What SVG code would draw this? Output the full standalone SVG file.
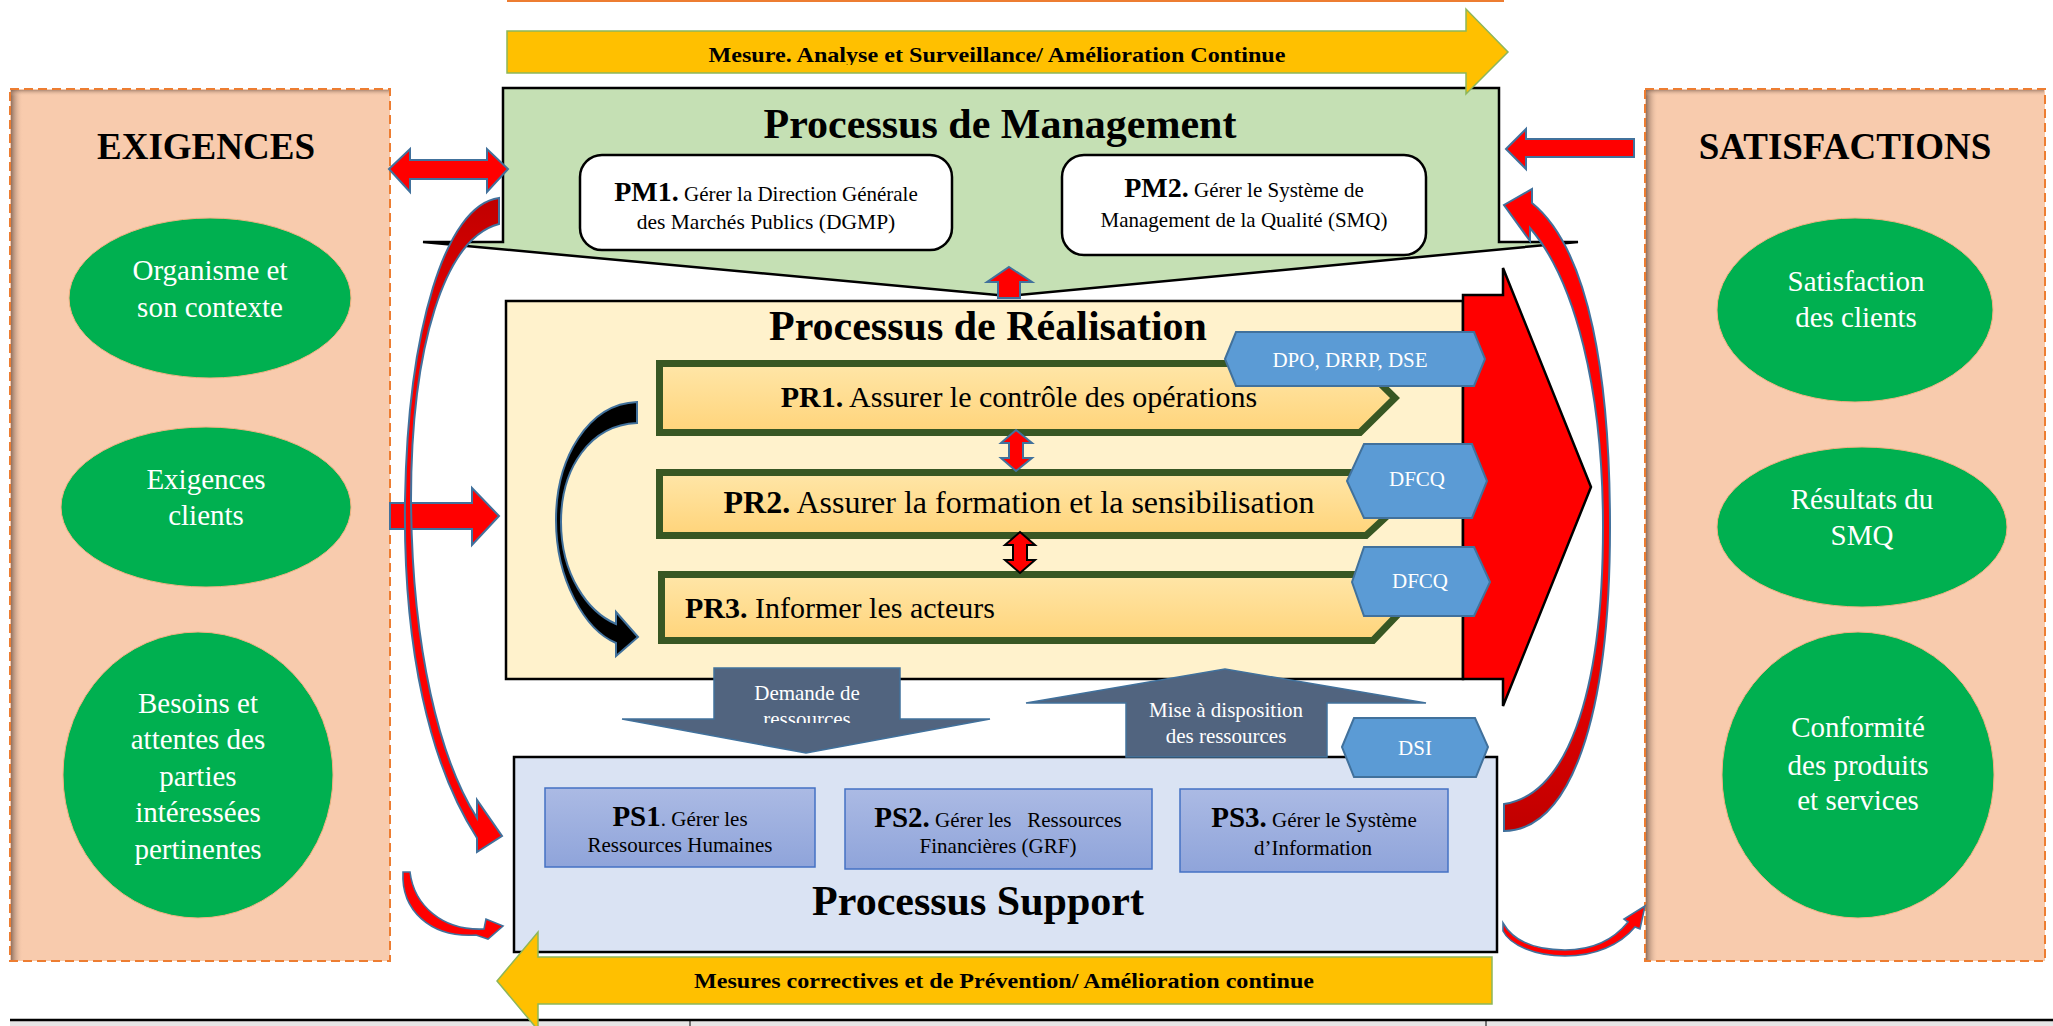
<svg xmlns="http://www.w3.org/2000/svg" width="2053" height="1026" viewBox="0 0 2053 1026">
<defs>
<style>
.t{font-family:"Liberation Serif","Times New Roman",serif;fill:#000}
.b{font-weight:bold}
.mid{text-anchor:middle}
.panel{fill:#F8CBAD;stroke:#ED7D31;stroke-width:2;stroke-dasharray:9 5}
.ell{fill:#00B050;stroke:#F4B183;stroke-width:1}
.et{font-size:29px;fill:#fff;text-anchor:middle}
.hex{fill:#5B9BD5;stroke:#41719C;stroke-width:2}
.ht{font-size:21px;fill:#fff;text-anchor:middle}
.red{fill:#FF0000;stroke:#41719C;stroke-width:2;stroke-linejoin:miter}
.thin{fill:#FF0000;stroke:#41719C;stroke-width:1.6;stroke-linejoin:miter}
.pr{fill:url(#gPR);stroke:#385723;stroke-width:7}
.ps{fill:url(#gPS);stroke:#4472C4;stroke-width:1.5}
.yel{fill:#FFC000;stroke:#8DB65A;stroke-width:1.5}
.dark{fill:#51647F;stroke:#41719C;stroke-width:1.5}
.title{font-size:42px;font-weight:bold;text-anchor:middle}
.box{stroke:#000;stroke-width:2.5}
.pm{fill:#fff;stroke:#000;stroke-width:2.5}
</style>
<linearGradient id="gPR" x1="0" y1="0" x2="0" y2="1"><stop offset="0" stop-color="#FFE6A8"/><stop offset="1" stop-color="#FFD47A"/></linearGradient>
<linearGradient id="gPS" x1="0" y1="0" x2="0" y2="1"><stop offset="0" stop-color="#ABBAE4"/><stop offset="1" stop-color="#8FA4DA"/></linearGradient>
<linearGradient id="gRedL" x1="0" y1="0" x2="0" y2="1"><stop offset="0" stop-color="#C00000"/><stop offset="0.35" stop-color="#FF0000"/><stop offset="1" stop-color="#FF0000"/></linearGradient>
<linearGradient id="gRedR" x1="0" y1="0" x2="0" y2="1"><stop offset="0" stop-color="#FF0000"/><stop offset="0.6" stop-color="#FF0000"/><stop offset="1" stop-color="#C00000"/></linearGradient>
<linearGradient id="shL" x1="0" y1="0" x2="1" y2="0"><stop offset="0" stop-color="#7E6050" stop-opacity="0.85"/><stop offset="1" stop-color="#F8CBAD" stop-opacity="0"/></linearGradient>
<linearGradient id="shT" x1="0" y1="0" x2="0" y2="1"><stop offset="0" stop-color="#7E6050" stop-opacity="0.6"/><stop offset="1" stop-color="#F8CBAD" stop-opacity="0"/></linearGradient>
<clipPath id="clipTop"><rect x="500" y="0" width="1000" height="65"/></clipPath>
<clipPath id="clipDem"><rect x="700" y="660" width="220" height="63"/></clipPath>
</defs>
<rect x="0" y="0" width="2053" height="1026" fill="#fff"/>
<rect x="507" y="-1" width="997" height="3" fill="#ED7D31"/>

<g id="exigences">
<rect class="panel" x="10" y="89" width="380" height="872"/>
<rect x="11" y="90" width="12" height="870" fill="url(#shL)"/>
<rect x="11" y="90" width="378" height="6" fill="url(#shT)"/>
<text class="t b mid" x="206" y="159" font-size="37">EXIGENCES</text>
<g id="ex1"><ellipse class="ell" cx="210" cy="298" rx="141" ry="80"/>
<text class="t et" x="210" y="280">Organisme et</text><text class="t et" x="210" y="317">son contexte</text></g>
<g id="ex2"><ellipse class="ell" cx="206" cy="507" rx="145" ry="80"/>
<text class="t et" x="206" y="489">Exigences</text><text class="t et" x="206" y="525">clients</text></g>
<g id="ex3"><ellipse class="ell" cx="198" cy="775" rx="135" ry="143"/>
<text class="t et" x="198" y="713">Besoins et</text><text class="t et" x="198" y="749">attentes des</text><text class="t et" x="198" y="786">parties</text><text class="t et" x="198" y="822">intéressées</text><text class="t et" x="198" y="859">pertinentes</text></g>
</g>

<g id="satisfactions">
<rect class="panel" x="1645" y="89" width="400" height="872"/>
<rect x="1646" y="90" width="12" height="870" fill="url(#shL)"/>
<rect x="1646" y="90" width="398" height="6" fill="url(#shT)"/>
<text class="t b mid" x="1845" y="159" font-size="37">SATISFACTIONS</text>
<g id="sa1"><ellipse class="ell" cx="1855" cy="310" rx="138" ry="92"/>
<text class="t et" x="1856" y="291">Satisfaction</text><text class="t et" x="1856" y="327">des clients</text></g>
<g id="sa2"><ellipse class="ell" cx="1862" cy="527" rx="145" ry="80"/>
<text class="t et" x="1862" y="509">Résultats du</text><text class="t et" x="1862" y="545">SMQ</text></g>
<g id="sa3"><ellipse class="ell" cx="1858" cy="775" rx="136" ry="143"/>
<text class="t et" x="1858" y="737">Conformité</text><text class="t et" x="1858" y="775">des produits</text><text class="t et" x="1858" y="810">et services</text></g>
</g>

<g id="table">
<rect x="10" y="1021" width="2043" height="6" fill="#E7E6E6"/>
<line x1="10" y1="1020" x2="2053" y2="1020" stroke="#000" stroke-width="2.5"/>
<line x1="690" y1="1021" x2="690" y2="1026" stroke="#000" stroke-width="1"/>
<line x1="1486" y1="1021" x2="1486" y2="1026" stroke="#000" stroke-width="1"/>
</g>

<g id="management">
<polygon class="box" fill="#C5E0B4" points="503,88 1499,88 1499,242 1578,242 1008,296 423,242 503,242"/>
<text class="t title" x="1000" y="138">Processus de Management</text>
<g id="pm1"><rect class="pm" x="580" y="155" width="372" height="95" rx="22"/>
<text class="t mid" x="766" y="201"><tspan class="b" font-size="28">PM1.</tspan><tspan font-size="21"> Gérer la Direction Générale</tspan></text>
<text class="t mid" x="766" y="229" font-size="21.5">des Marchés Publics (DGMP)</text></g>
<g id="pm2"><rect class="pm" x="1062" y="155" width="364" height="100" rx="22"/>
<text class="t mid" x="1244" y="197"><tspan class="b" font-size="28">PM2.</tspan><tspan font-size="21"> Gérer le Système de</tspan></text>
<text class="t mid" x="1244" y="227" font-size="21">Management de la Qualité (SMQ)</text></g>
</g>

<g id="mesure">
<polygon class="yel" points="507,31 1466,31 1466,9 1508,52 1466,94 1466,73 507,73"/>
<text class="t b mid" x="997" y="62" font-size="21" textLength="577" lengthAdjust="spacingAndGlyphs" clip-path="url(#clipTop)">Mesure. Analyse et Surveillance/ Amélioration Continue</text>
</g>

<g id="realisation">
<rect class="box" fill="#FFF2CC" x="506" y="301" width="957" height="378"/>
<polygon fill="#FF0000" stroke="#000" stroke-width="2.5" points="1463,295 1503,295 1503,268 1591,487 1503,706 1503,679 1463,679"/>
<text class="t title" x="988" y="340">Processus de Réalisation</text>
<g id="pr1"><polygon class="pr" points="659.5,363.5 1360,363.5 1395,398 1360,432.5 659.5,432.5"/>
<text class="t mid" x="1019" y="407"><tspan class="b" font-size="30">PR1.</tspan><tspan font-size="30"> Assurer le contrôle des opérations</tspan></text></g>
<g id="pr2"><polygon class="pr" points="659.5,472.5 1366,472.5 1400,504 1366,535.5 659.5,535.5"/>
<text class="t mid" x="1019" y="513"><tspan class="b" font-size="32">PR2.</tspan><tspan font-size="32"> Assurer la formation et la sensibilisation</tspan></text></g>
<g id="pr3"><polygon class="pr" points="661.5,574.5 1373,574.5 1405,607 1373,640.5 661.5,640.5"/>
<text class="t" x="685" y="618"><tspan class="b" font-size="30">PR3.</tspan><tspan font-size="30"> Informer les acteurs</tspan></text></g>
<g id="dpo"><polygon class="hex" points="1225,359 1236,332 1474,332 1485,359 1474,386 1236,386"/>
<text class="t ht" x="1350" y="367">DPO, DRRP, DSE</text></g>
<g id="dfcq1"><polygon class="hex" points="1347,481 1364,444 1472,444 1487,481 1472,518 1364,518"/>
<text class="t ht" x="1417" y="486">DFCQ</text></g>
<g id="dfcq2"><polygon class="hex" points="1352,582 1364,547 1474,547 1490,582 1474,616 1364,616"/>
<text class="t ht" x="1420" y="588">DFCQ</text></g>
</g>

<g id="support">
<rect class="box" fill="#DAE3F3" x="514" y="757" width="983" height="195"/>
<g id="ps1"><rect class="ps" x="545" y="788" width="270" height="79"/>
<text class="t mid" x="680" y="826"><tspan class="b" font-size="29">PS1</tspan><tspan font-size="21">. Gérer les</tspan></text>
<text class="t mid" x="680" y="852" font-size="21">Ressources Humaines</text></g>
<g id="ps2"><rect class="ps" x="845" y="789" width="307" height="80"/>
<text class="t mid" x="998" y="827" xml:space="preserve"><tspan class="b" font-size="29">PS2.</tspan><tspan font-size="21"> Gérer les   Ressources</tspan></text>
<text class="t mid" x="998" y="853" font-size="21">Financières (GRF)</text></g>
<g id="ps3"><rect class="ps" x="1180" y="789" width="268" height="83"/>
<text class="t mid" x="1314" y="827"><tspan class="b" font-size="29">PS3.</tspan><tspan font-size="21"> Gérer le Système</tspan></text>
<text class="t mid" x="1313" y="855" font-size="21">d’Information</text></g>
<text class="t title" x="978" y="915">Processus Support</text>
</g>

<g id="demande">
<polygon class="dark" points="714,668 900,668 900,719 990,719 806,753 622,719 714,719"/>
<text class="t ht" x="807" y="700">Demande de</text>
<text class="t ht" x="807" y="726" clip-path="url(#clipDem)">ressources</text>
</g>
<g id="mise">
<polygon class="dark" points="1126,757 1126,703 1026,703 1225,669 1426,703 1327,703 1327,757"/>
<text class="t ht" x="1226" y="717">Mise à disposition</text>
<text class="t ht" x="1226" y="743">des ressources</text>
</g>
<g id="dsi"><polygon class="hex" points="1342,747 1354,718 1475,718 1488,747 1476,777 1354,777"/>
<text class="t ht" x="1415" y="755">DSI</text></g>

<g id="mesures-correctives">
<polygon class="yel" points="1492,957 538,957 538,932 497,981 538,1030 538,1004 1492,1004"/>
<text class="t b mid" x="1004" y="988" font-size="21" textLength="620" lengthAdjust="spacingAndGlyphs">Mesures correctives et de Prévention/ Amélioration continue</text>
</g>

<g id="connectors">
<polygon class="red" points="389,169 410,149 410,160 487,160 487,149 508,169 487,192 487,179 410,179 410,192"/>
<polygon class="red" points="1506,149 1526,129 1526,139 1634,139 1634,157 1526,157 1526,169"/>
<polygon class="red" points="390,503 472,503 472,488 499,516 472,545 472,529 390,529"/>
<polygon class="red" points="1009,267 1032,282 1020,282 1020,298 998,298 998,282 987,282"/>
<polygon class="red" points="1016,430 1032,443 1023,443 1023,458 1032,458 1016,471 1001,458 1009,458 1009,443 1001,443"/>
<polygon fill="#FF0000" stroke="#000" stroke-width="2" points="1020,532 1035,545 1027,545 1027,560 1035,560 1020,573 1005,560 1013,560 1013,545 1005,545"/>
<path fill="#000" stroke="#41719C" stroke-width="2" d="M637,402 C588,404 556,458 556,520 C556,580 585,630 616,643 L616,656 L638,637 L616,612 L616,624 C588,612 561,575 561,522 C561,468 590,425 637,423 Z"/>
<path fill="url(#gRedL)" stroke="#41719C" stroke-width="2" d="M499,198 C445,205 408,330 405,500 C403,650 430,765 477,838 L477,852 L502,836 L477,800 L477,818 C440,760 412,650 411,500 C411,345 445,238 499,224 Z"/>
<path fill="url(#gRedR)" stroke="#41719C" stroke-width="2" d="M1504,804 C1565,795 1603,700 1603,527 C1603,390 1575,280 1530,228 L1530,241 L1504,205 L1532,189 L1532,203 C1590,250 1610,380 1610,527 C1610,720 1570,830 1504,831 Z"/>
<path class="thin" d="M403,872 C401,910 430,938 476,935 L488,939 L503,926 L486,919 L484,929 C442,931 414,905 410,872 Z"/>
<path class="thin" d="M1503,923 C1515,944 1540,950 1565,950 C1595,950 1615,938 1628,922 L1624,919 L1645,906 L1640,929 L1635,927 C1620,945 1595,956 1565,956 C1535,956 1510,945 1503,931 Z"/>
</g>
</svg>
